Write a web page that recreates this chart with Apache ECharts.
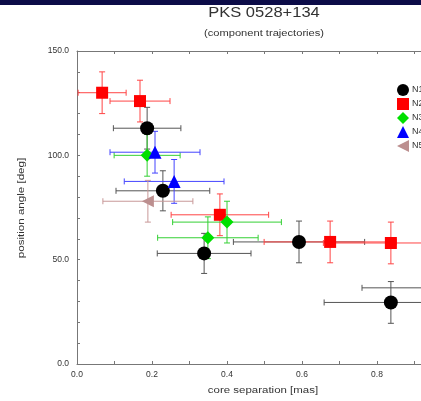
<!DOCTYPE html>
<html>
<head>
<meta charset="utf-8">
<script src="https://cdn.jsdelivr.net/npm/echarts@6/dist/echarts.min.js"></script>
<style>html,body{margin:0;padding:0;background:#fff;overflow:hidden;width:421px;height:401px;}#c{width:470px;height:401px;}</style>
</head>
<body>
<div id="c"></div>
<script>
var seriesNames = ['N1', 'N2', 'N3', 'N4', 'N5'];
var n1X = [0.187, 0.229, 0.339, 0.592, 0.837, 0.94];
var n1Y = [113, 83, 53, 58.5, 29.5, 36.5];
var n1Xerr = [0.09, 0.125, 0.125, 0.175, 0.178, 0.18];
var n1Yerr = [10, 9.6, 9.6, 10, 10, 10];
var n2X = [0.067, 0.168, 0.381, 0.675, 0.837];
var n2Y = [130, 126, 71.5, 58.5, 58];
var n2Xerr = [0.064, 0.08, 0.13, 0.176, 0.18];
var n2Yerr = [10, 10, 10, 10, 10];
var n3X = [0.187, 0.349, 0.40];
var n3Y = [100, 60.5, 68];
var n3Xerr = [0.088, 0.134, 0.145];
var n3Yerr = [10, 10, 10];
var n4X = [0.208, 0.259];
var n4Y = [101.5, 87.5];
var n4Xerr = [0.12, 0.133];
var n4Yerr = [10, 10.5];
var n5X = [0.189];
var n5Y = [78];
var n5Xerr = [0.12];
var n5Yerr = [10];

var colors = ['#000000', '#ff0000', '#00e000', '#0000ff', '#bc8f8f'];
var errColors = ['#555555', '#ff4545', '#35d035', '#4545ff', '#c89898'];
var symbols = ['circle', 'rect', 'diamond', 'triangle', 'path://M0,5L10,0L10,10Z'];
var sizes = [14, 12, 13, 13, 12];
var allX = [n1X, n2X, n3X, n4X, n5X];
var allY = [n1Y, n2Y, n3Y, n4Y, n5Y];
var allXe = [n1Xerr, n2Xerr, n3Xerr, n4Xerr, n5Xerr];
var allYe = [n1Yerr, n2Yerr, n3Yerr, n4Yerr, n5Yerr];

var font = '"Liberation Sans", Arial, sans-serif';
var chart = echarts.init(document.getElementById('c'));
var series = [];
for (var s = 0; s < 5; s++) {
  var errData = [], ptData = [];
  for (var i = 0; i < allX[s].length; i++) {
    errData.push([allX[s][i], allY[s][i], allXe[s][i], allYe[s][i]]);
    ptData.push([allX[s][i], allY[s][i]]);
  }
  (function (col) {
    series.push({
      type: 'custom',
      name: seriesNames[s] + '_err',
      data: errData,
      z: 2,
      silent: true,
      clip: false,
      renderItem: function (params, api) {
        var x = api.value(0), y = api.value(1), xe = api.value(2), ye = api.value(3);
        var l = api.coord([x - xe, y]), r = api.coord([x + xe, y]);
        var t = api.coord([x, y + ye]), b = api.coord([x, y - ye]);
        var c = 3;
        var st = { stroke: col, lineWidth: 1 };
        return {
          type: 'group',
          children: [
            { type: 'line', shape: { x1: l[0], y1: l[1], x2: r[0], y2: r[1] }, style: st },
            { type: 'line', shape: { x1: l[0], y1: l[1] - c, x2: l[0], y2: l[1] + c }, style: st },
            { type: 'line', shape: { x1: r[0], y1: r[1] - c, x2: r[0], y2: r[1] + c }, style: st },
            { type: 'line', shape: { x1: t[0], y1: t[1], x2: b[0], y2: b[1] }, style: st },
            { type: 'line', shape: { x1: t[0] - c, y1: t[1], x2: t[0] + c, y2: t[1] }, style: st },
            { type: 'line', shape: { x1: b[0] - c, y1: b[1], x2: b[0] + c, y2: b[1] }, style: st }
          ]
        };
      }
    });
  })(errColors[s]);
  series.push({
    type: 'scatter',
    name: seriesNames[s],
    data: ptData,
    symbol: symbols[s],
    symbolSize: sizes[s],
    itemStyle: { color: colors[s], opacity: 1 },
    z: 5,
    clip: false
  });
}

function txt(str, x, y, size, sx, rot) {
  return {
    type: 'text', x: x, y: y, scaleX: sx, rotation: rot || 0,
    style: { text: str, font: size + 'px ' + font, fill: '#333', align: 'center', verticalAlign: 'middle' }
  };
}

var option = {
  animation: false,
  backgroundColor: '#ffffff',
  textStyle: { fontFamily: font },
  graphic: [
    { type: 'rect', left: 0, top: 0, shape: { width: 470, height: 5 }, style: { fill: '#0c0c48' } },
    txt('PKS 0528+134', 264, 13, 14, 1.18),
    txt('(component trajectories)', 264, 34, 8.5, 1.31),
    txt('core separation [mas]', 263, 391, 8.5, 1.35),
    txt('position angle [deg]', 22, 208, 8.5, 1.36, Math.PI / 2)
  ],
  legend: {
    orient: 'vertical',
    left: 392,
    top: 79,
    itemWidth: 12,
    itemHeight: 12,
    itemGap: 2,
    data: seriesNames,
    textStyle: { fontSize: 9, fontFamily: font, color: '#333', padding: [0, 0, 0, -2] }
  },
  grid: { left: 77, top: 51, width: 375, height: 313, outerBoundsMode: 'none' },
  xAxis: [{
    type: 'value', min: 0, max: 1.0, interval: 0.1,
    axisLine: { lineStyle: { color: '#777', width: 1 } },
    axisTick: { inside: true, length: 3, lineStyle: { color: '#777' } },
    splitLine: { show: false },
    axisLabel: {
      fontSize: 8.5, fontFamily: font, color: '#333', margin: 6,
      formatter: function (v) { var k = Math.round(v * 10); return k % 2 === 0 ? v.toFixed(1) : ''; }
    }
  }, {
    type: 'value', min: 0, max: 1.0, interval: 0.1, position: 'top',
    axisLine: { show: true, lineStyle: { color: '#777', width: 1 } },
    axisTick: { show: true, inside: true, length: 3, lineStyle: { color: '#777' } },
    axisLabel: { show: false }, splitLine: { show: false }
  }],
  yAxis: [{
    type: 'value', min: 0, max: 150, interval: 10,
    axisLine: { show: true, lineStyle: { color: '#777', width: 1 } },
    axisTick: { show: true, inside: true, length: 3, lineStyle: { color: '#777' } },
    splitLine: { show: false },
    axisLabel: {
      fontSize: 8.5, fontFamily: font, color: '#333', margin: 8,
      formatter: function (v) { return Math.round(v) % 50 === 0 ? v.toFixed(1) : ''; }
    }
  }],
  series: series
};
chart.setOption(option);
</script>
</body>
</html>
